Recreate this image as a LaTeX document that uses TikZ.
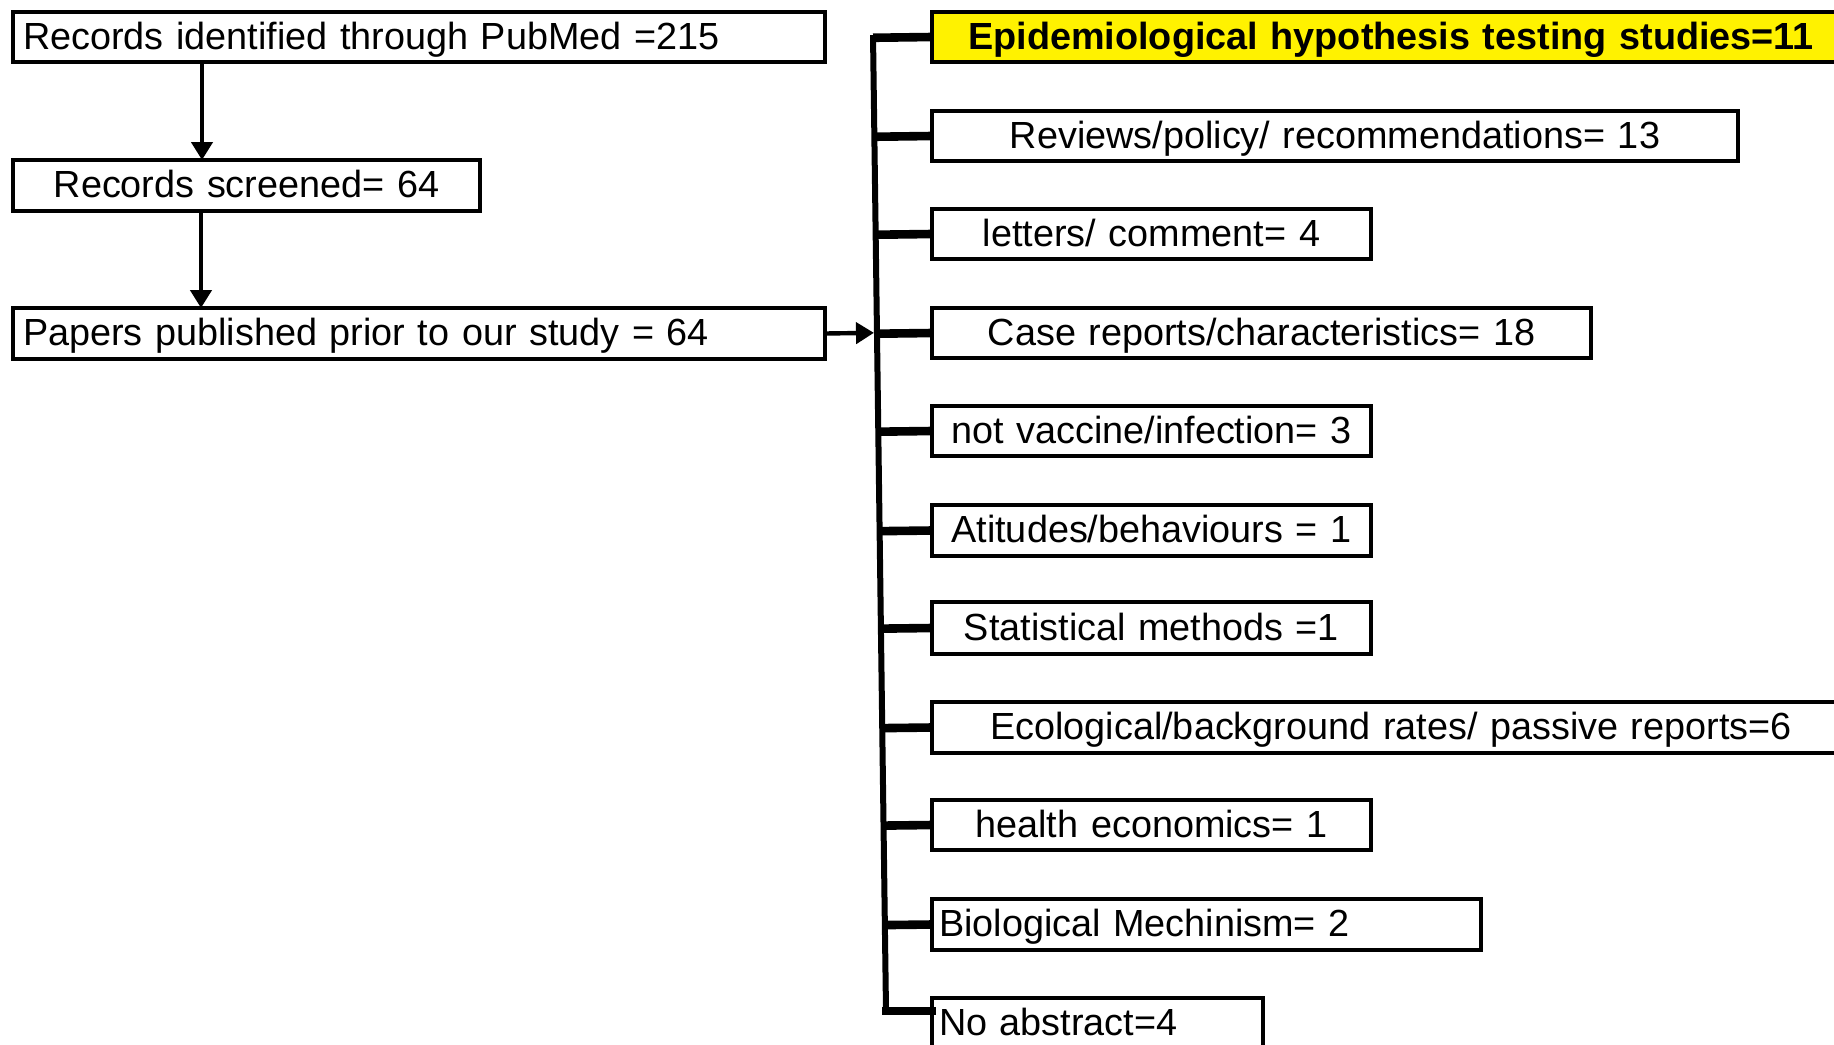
\documentclass[tikz,border=0pt]{standalone}
\usepackage{fontspec}
\setmainfont{Liberation Sans}
\usetikzlibrary{calc,arrows.meta}
\begin{document}
\begin{tikzpicture}[x=0.5pt,y=-0.5pt,
  box/.style={draw=black, line width=1.6pt, inner ysep=0pt, outer sep=0pt,
    anchor=north west, minimum height=25pt,
    font=\fontsize{18.9pt}{22pt}\selectfont, text height=15pt, text depth=3pt},
  lbox/.style={box, align=left, inner xsep=5pt},
  lbox2/.style={box, align=left, inner xsep=3.5pt},
  cbox/.style={box, align=center, inner xsep=0pt},
  arr/.style={line width=2.2pt, -{Triangle[length=9pt,width=10.5pt]}},
  busline/.style={line width=3pt},
  tickline/.style={line width=4.3pt},
]
\useasboundingbox (0,0) rectangle (1834,1044);
\clip (0,0) rectangle (1834,1044);

% left column
\node[lbox, text width=396pt] (b1) at (13,12) {Records identified through PubMed =215};
\node[cbox, text width=233.5pt, minimum height=25.5pt] (b2) at (13,160) {Records screened= 64};
\node[lbox, text width=396pt, minimum height=25.5pt] (b3) at (13,308) {Papers published prior to our study = 64};

% right column
\node[cbox, text width=459pt, fill=yellow, font=\fontsize{18.9pt}{22pt}\selectfont\bfseries] (r1) at (932,12) {Epidemiological hypothesis testing studies=11};
\node[cbox, text width=403pt] (r2) at (932,111) {Reviews/policy/ recommendations= 13};
\node[cbox, text width=219.5pt] (r3) at (932,209) {letters/ comment= 4};
\node[cbox, text width=329.5pt] (r4) at (932,308) {Case reports/characteristics= 18};
\node[cbox, text width=219.5pt] (r5) at (932,406) {not vaccine/infection= 3};
\node[cbox, text width=219.5pt, minimum height=25.5pt] (r6) at (932,505) {Atitudes/behaviours = 1};
\node[cbox, text width=219.5pt, minimum height=26pt] (r7) at (932,602) {Statistical methods =1};
\node[cbox, text width=459pt, minimum height=25.5pt] (r8) at (932,702) {Ecological/background rates/ passive reports=6};
\node[cbox, text width=219.5pt] (r9) at (932,800) {health economics= 1};
\node[lbox2, text width=267.5pt, minimum height=25.5pt] (r10) at (932,899) {Biological Mechinism= 2};
\node[lbox2, text width=158.5pt] (r11) at (932,998) {No abstract=4};

% vertical bus
\coordinate (busT) at (873,35);
\coordinate (busB) at (886,1011);
\draw[busline] (busT) -- (busB);

% ticks from bus to boxes
\foreach \r in {r1,r2,r3,r4,r5,r6,r7,r8,r9,r10}{
  \draw[tickline] ($(busT)!(\r.west)!(busB)$) -- (\r.west);
}
\draw[tickline, line cap=rect] (busB) -- (busB -| r11.west);

% arrows
\coordinate (a1) at (202,0);
\coordinate (a2) at (201,0);
\draw[arr] (b1.south -| a1) -- (b2.north -| a1);
\draw[arr] (b2.south -| a2) -- (b3.north -| a2);
\draw[arr, shorten >=1.5pt] (b3.east) -- ($(busT)!(b3.east)!(busB)$);
\end{tikzpicture}
\end{document}
